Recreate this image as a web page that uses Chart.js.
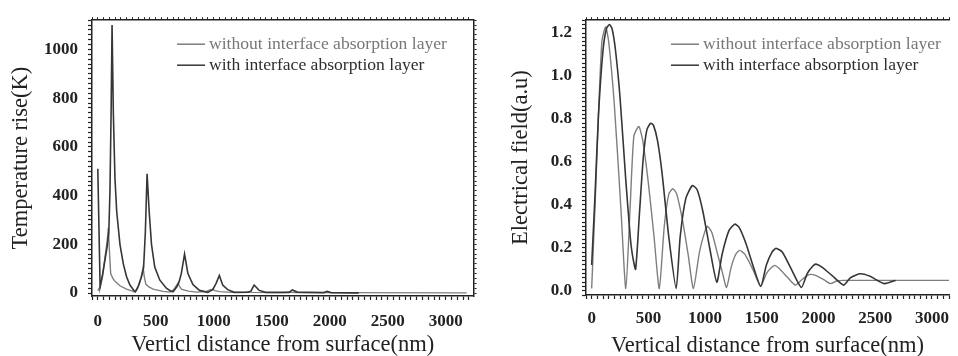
<!DOCTYPE html>
<html>
<head>
<meta charset="utf-8">
<script src="https://cdn.jsdelivr.net/npm/chart.js@4.4.1/dist/chart.umd.min.js"></script>
<style>
  html, body { margin: 0; padding: 0; background: #fff; }
  #wrap { position: relative; width: 958px; height: 356px; overflow: hidden; }
  .box { position: absolute; top: 0; height: 356px; }
  #boxTemp { left: 0; width: 480px; }
  #boxField { left: 480px; width: 478px; }
</style>
</head>
<body>
<div id="wrap">
  <div class="box" id="boxTemp"><canvas id="chartTemp"></canvas></div>
  <div class="box" id="boxField"><canvas id="chartField"></canvas></div>
</div>
<script>
// --- datos -----------------------------------------------------------------
const SERIES_LABELS = ['without interface absorption layer', 'with interface absorption layer'];

// Temperatura (K) vs distancia (nm)
const tempWithoutX = [0, 20, 40, 60, 80, 91, 100, 111, 130, 148, 191, 248, 305, 320, 340, 360, 380, 391, 400, 414, 440, 477, 563, 620, 650, 670, 691, 705, 720, 780, 850, 930, 960, 990, 1010, 1050, 1150, 1280, 1300, 1330, 1600, 1650, 1700, 2000, 3180];
const tempWithoutY = [10, 25, 75, 140, 210, 268, 175, 80, 60, 48, 30, 16, 7, 4, 15, 40, 75, 105, 70, 37, 25, 16, 7, 4, 12, 25, 40, 28, 16, 8, 4, 6, 12, 16, 10, 6, 3, 4, 6, 3, 2, 4, 2, 2, 1];
const tempWithX = [0, 20, 40, 60, 80, 95, 105, 115, 123, 134, 148, 163, 191, 220, 248, 277, 311, 325, 350, 375, 395, 410, 425, 443, 463, 491, 534, 591, 634, 650, 680, 700, 720, 748, 777, 820, 877, 948, 991, 1020, 1048, 1077, 1120, 1177, 1300, 1320, 1348, 1391, 1448, 1650, 1677, 1720, 1950, 1977, 2010, 2250];
const tempWithY = [510, 25, 70, 130, 190, 250, 420, 750, 1100, 740, 470, 335, 200, 120, 67, 33, 11, 6, 30, 65, 105, 250, 490, 335, 200, 107, 54, 20, 7, 6, 25, 45, 80, 160, 80, 35, 11, 3, 14, 40, 72, 33, 14, 3, 4, 8, 33, 11, 3, 3, 13, 4, 2, 7, 2, 1];

// Campo eléctrico (u.a.) vs distancia (nm)
const fieldWithoutX = [0, 30, 60, 90, 123, 150, 200, 258, 301, 340, 372, 415, 450, 500, 550, 596, 640, 680, 716, 750, 800, 850, 897, 950, 1000, 1023, 1060, 1110, 1150, 1189, 1230, 1270, 1304, 1350, 1420, 1490, 1540, 1590, 1619, 1660, 1730, 1797, 1850, 1900, 1928, 1980, 2050, 2106, 2160, 2221, 3150];
const fieldWithoutY = [0.01, 0.40, 0.82, 1.16, 1.23, 1.16, 0.865, 0.38, 0.01, 0.40, 0.72, 0.765, 0.70, 0.50, 0.25, 0.01, 0.30, 0.45, 0.475, 0.45, 0.33, 0.17, 0.01, 0.18, 0.28, 0.30, 0.27, 0.17, 0.09, 0.015, 0.11, 0.17, 0.188, 0.17, 0.10, 0.02, 0.08, 0.11, 0.117, 0.10, 0.06, 0.026, 0.05, 0.07, 0.076, 0.07, 0.05, 0.033, 0.045, 0.048, 0.048];
const fieldWithX = [0, 30, 60, 100, 130, 157, 180, 210, 250, 300, 340, 358, 387, 420, 455, 487, 520, 545, 580, 620, 680, 745, 780, 830, 888, 930, 980, 1040, 1103, 1150, 1210, 1261, 1300, 1360, 1420, 1490, 1540, 1590, 1625, 1680, 1760, 1848, 1900, 1950, 1977, 2030, 2120, 2221, 2280, 2364, 2450, 2579, 2679];
const fieldWithY = [0.12, 0.45, 0.82, 1.12, 1.22, 1.24, 1.22, 1.12, 0.90, 0.52, 0.25, 0.17, 0.10, 0.35, 0.62, 0.75, 0.78, 0.77, 0.70, 0.55, 0.25, 0.01, 0.25, 0.43, 0.49, 0.47, 0.37, 0.20, 0.04, 0.17, 0.28, 0.31, 0.295, 0.22, 0.12, 0.02, 0.12, 0.18, 0.197, 0.18, 0.10, 0.015, 0.08, 0.115, 0.124, 0.11, 0.07, 0.026, 0.06, 0.079, 0.068, 0.033, 0.048];

// etiquetas de los ejes
const distanceTicks = [0, 500, 1000, 1500, 2000, 2500, 3000];
const tempTicks = [0, 200, 400, 600, 800, 1000];
const fieldTicks = [0, 0.2, 0.4, 0.6, 0.8, 1.0, 1.2];

// --- estilo ----------------------------------------------------------------
const SERIF = '"Liberation Serif", "Times New Roman", Times, serif';
const INK = '#222';
const GREY_LINE = '#7e7e7e';
const DARK_LINE = '#363636';

const toPoints = (xs, ys) => xs.map((x, i) => ({ x, y: ys[i] }));

// leyenda dibujada dentro del área del gráfico
const insideLegend = {
  id: 'insideLegend',
  afterDraw(chart) {
    const { ctx, chartArea } = chart;
    const x0 = chartArea.left + 85;
    const rows = [
      { y: chartArea.top + 24, color: GREY_LINE, text: '#777', label: SERIES_LABELS[0] },
      { y: chartArea.top + 45, color: DARK_LINE, text: '#2e2e2e', label: SERIES_LABELS[1] }
    ];
    ctx.save();
    ctx.font = '17.6px ' + SERIF;
    ctx.textBaseline = 'middle';
    rows.forEach(r => {
      ctx.strokeStyle = r.color;
      ctx.lineWidth = 1.5;
      ctx.beginPath();
      ctx.moveTo(x0, r.y);
      ctx.lineTo(x0 + 28, r.y);
      ctx.stroke();
      ctx.fillStyle = r.text;
      ctx.fillText(r.label, x0 + 32, r.y);
    });
    ctx.restore();
  }
};

function dataset(label, xs, ys, color, width, tension, order) {
  return {
    label,
    data: toPoints(xs, ys),
    borderColor: color,
    backgroundColor: 'transparent',
    borderWidth: width,
    pointRadius: 0,
    tension,
    order
  };
}

function mainAxis(opts) {
  return {
    type: 'linear',
    position: opts.position,
    min: opts.min,
    max: opts.max,
    afterFit: opts.fit,
    border: { color: INK, width: 1.5 },
    grid: { drawOnChartArea: false, drawTicks: true, tickLength: 4, tickColor: INK, tickWidth: 1.2 },
    ticks: {
      stepSize: opts.step,
      autoSkip: false,
      includeBounds: false,
      maxRotation: 0,
      padding: opts.pad,
      color: INK,
      font: { family: SERIF, size: 17, weight: 'bold' },
      callback: v => {
        const hit = opts.labels.find(t => Math.abs(t - v) < opts.step / 10);
        return hit === undefined ? '' : opts.fmt(hit);
      }
    },
    title: {
      display: true,
      text: opts.title,
      color: INK,
      font: { family: SERIF, size: 22.5, lineHeight: 1 },
      padding: opts.titlePad
    }
  };
}

function frameAxis(position, min, max, step, fit) {
  return {
    type: 'linear',
    position,
    min,
    max,
    afterFit: fit,
    border: { color: INK, width: 1.5 },
    grid: { drawOnChartArea: false, drawTicks: true, tickLength: 3, tickColor: INK },
    ticks: { display: false, stepSize: step, autoSkip: false, includeBounds: false }
  };
}

function baseOptions(scales) {
  return {
    animation: false,
    responsive: true,
    maintainAspectRatio: false,
    layout: { padding: 0 },
    plugins: { legend: { display: false }, tooltip: { enabled: false } },
    scales
  };
}

// --- gráfico izquierdo: temperatura ----------------------------------------
new Chart(document.getElementById('chartTemp'), {
  type: 'line',
  data: {
    datasets: [
      dataset(SERIES_LABELS[0], tempWithoutX, tempWithoutY, GREY_LINE, 1.4, 0, 2),
      dataset(SERIES_LABELS[1], tempWithX, tempWithY, DARK_LINE, 1.6, 0, 1)
    ]
  },
  options: baseOptions({
    x: mainAxis({
      position: 'bottom', min: -50, max: 3240, step: 50, pad: 11,
      labels: distanceTicks, fmt: v => String(v),
      title: 'Verticl distance from surface(nm)', titlePad: { bottom: 0 },
      fit: s => { s.height = 60; }
    }),
    y: mainAxis({
      position: 'left', min: -12, max: 1120, step: 20, pad: 10,
      labels: tempTicks, fmt: v => String(v),
      title: 'Temperature rise(K)', titlePad: { top: 10 },
      fit: s => { s.width = 92; }
    }),
    xTop: frameAxis('top', -50, 3240, 50, s => { s.height = 15; }),
    yRight: frameAxis('right', -12, 1120, 20, s => { s.width = 4; })
  }),
  plugins: [insideLegend]
});

// --- gráfico derecho: campo eléctrico --------------------------------------
new Chart(document.getElementById('chartField'), {
  type: 'line',
  data: {
    datasets: [
      dataset(SERIES_LABELS[0], fieldWithoutX, fieldWithoutY, GREY_LINE, 1.4, 0.2, 2),
      dataset(SERIES_LABELS[1], fieldWithX, fieldWithY, DARK_LINE, 1.6, 0.2, 1)
    ]
  },
  options: baseOptions({
    x: mainAxis({
      position: 'bottom', min: -50, max: 3150, step: 50, pad: 9,
      labels: distanceTicks, fmt: v => String(v),
      title: 'Vertical distance from surface(nm)', titlePad: { bottom: -1 },
      fit: s => { s.height = 61; }
    }),
    y: mainAxis({
      position: 'left', min: -0.02, max: 1.26, step: 0.02, pad: 10,
      labels: fieldTicks, fmt: v => v.toFixed(1),
      title: 'Electrical field(a.u)', titlePad: { top: 30 },
      fit: s => { s.width = 106; }
    }),
    xTop: frameAxis('top', -50, 3150, 50, s => { s.height = 12; })
  }),
  plugins: [insideLegend]
});
</script>
</body>
</html>
